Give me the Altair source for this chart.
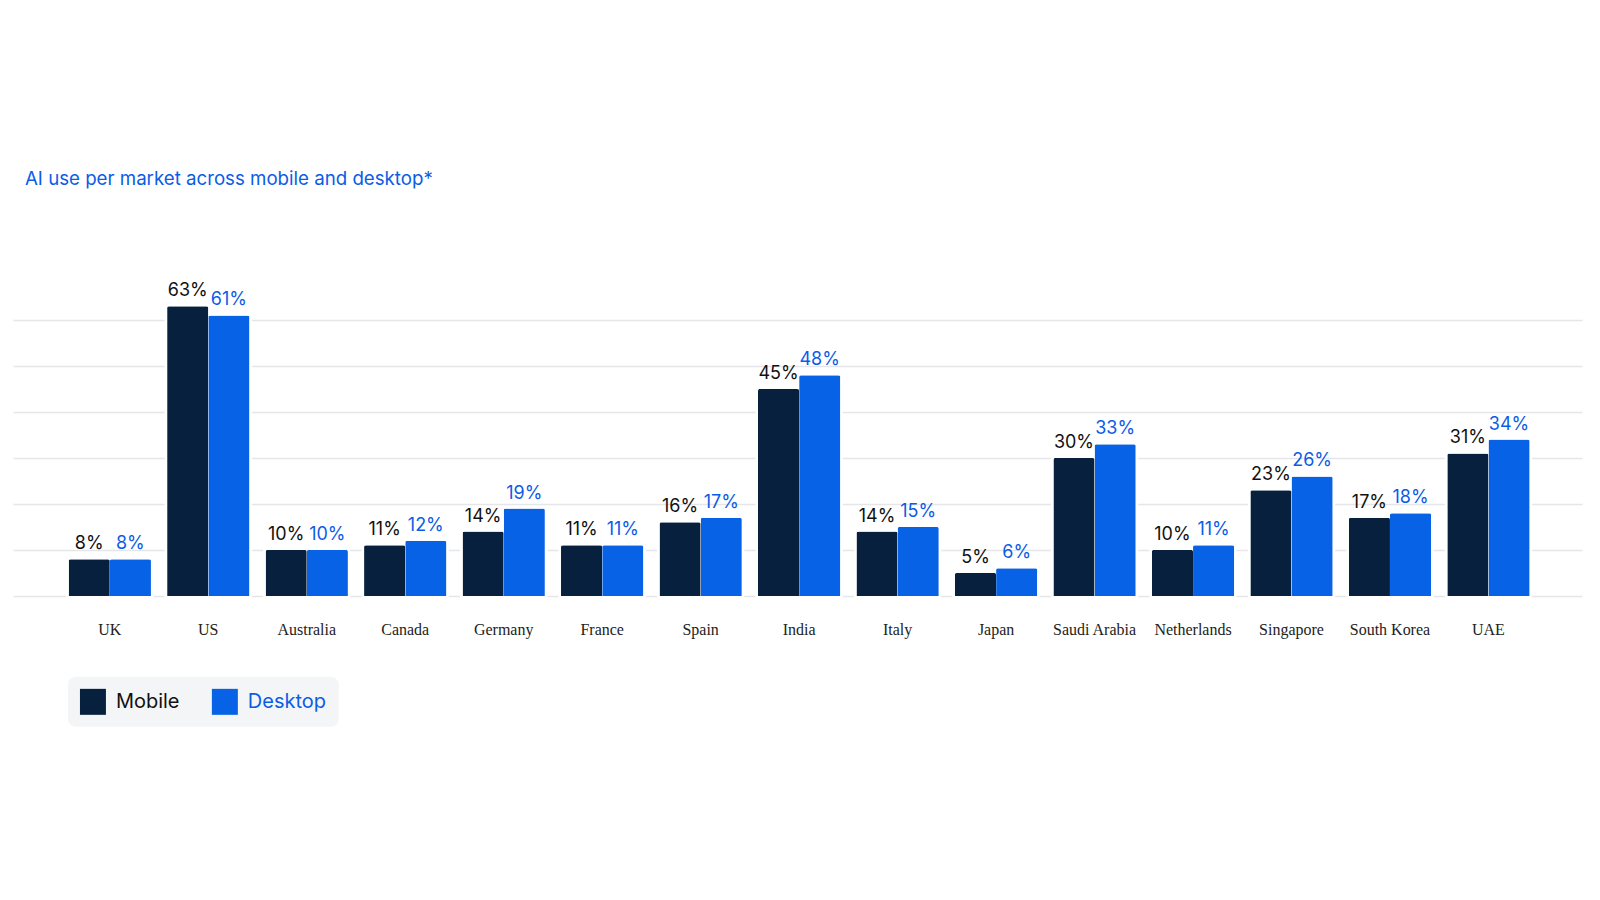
import altair as alt
import pandas as pd

countries = ["UK", "US", "Australia", "Canada", "Germany", "France", "Spain", "India",
             "Italy", "Japan", "Saudi Arabia", "Netherlands", "Singapore", "South Korea", "UAE"]
mobile = [8, 63, 10, 11, 14, 11, 16, 45, 14, 5, 30, 10, 23, 17, 31]
desktop = [8, 61, 10, 12, 19, 11, 17, 48, 15, 6, 33, 11, 26, 18, 34]
series = ["Mobile", "Desktop"]
grid_values = [0, 10, 20, 30, 40, 50, 60]

rows = []
for c, m, d in zip(countries, mobile, desktop):
    rows.append({"country": c, "series": "Mobile", "value": m, "label": f"{m}%"})
    rows.append({"country": c, "series": "Desktop", "value": d, "label": f"{d}%"})
df = pd.DataFrame(rows)

BLUE = "#0b5ce6"
NAVY = "#06203e"

x = alt.X("country:N", sort=countries,
          scale=alt.Scale(paddingInner=0.164, paddingOuter=0.5485, align=0.515),
          axis=alt.Axis(title=None, labelAngle=0, ticks=False, domain=False, labelPadding=26,
                        labelFont="Liberation Serif", labelFontSize=16, labelColor="#222222",
                        grid=False))
xo = alt.XOffset("series:N", sort=series, scale=alt.Scale(paddingInner=0, paddingOuter=0))
y = alt.Y("value:Q", scale=alt.Scale(domain=[0, 70], nice=False),
          axis=alt.Axis(title=None, labels=False, ticks=False, domain=False, values=grid_values,
                        gridColor="#e4e6ea", gridWidth=1.5))

base = alt.Chart(df)

halo = base.mark_bar(fill="white", stroke="white", strokeWidth=5).encode(x=x, xOffset=xo, y=y)

bars = base.mark_bar(cornerRadiusTopLeft=2, cornerRadiusTopRight=2).encode(
    x=x, xOffset=xo, y=y,
    color=alt.Color("series:N", sort=series,
                    scale=alt.Scale(domain=series, range=[NAVY, "#0762e5"]),
                    legend=alt.Legend(title=None, orient="none", legendX=55, legendY=403,
                                      direction="horizontal", symbolType="square",
                                      symbolSize=676, symbolStrokeWidth=0,
                                      labelFont="Inter", labelFontSize=20, labelOffset=10,
                                      columnPadding=32, padding=12, fillColor="#f4f5f7",
                                      cornerRadius=8,
                                      labelColor=alt.ExprRef("datum.label == 'Desktop' ? '#0b5ce6' : '#111111'"))),
)

labels = base.mark_text(font="Inter", fontSize=18, baseline="alphabetic", dy=-10).encode(
    x=x, xOffset=xo, y=y, text="label:N",
    color=alt.condition(alt.datum.series == "Mobile", alt.value("#111111"), alt.value(BLUE)),
)

chart = alt.layer(halo, bars, labels).properties(
    width=1570, height=322,
    title=alt.TitleParams("AI use per market across mobile and desktop*", anchor="start",
                          font="Inter", fontSize=18.7, fontWeight="normal", color=BLUE,
                          dx=12, offset=85),
    autosize=alt.AutoSizeParams(type="none"),
    padding={"left": 5, "top": 266, "right": 10, "bottom": 300},
).configure_view(stroke=None)

chart.save("out.html", embed_options={"renderer": "svg", "actions": False})
